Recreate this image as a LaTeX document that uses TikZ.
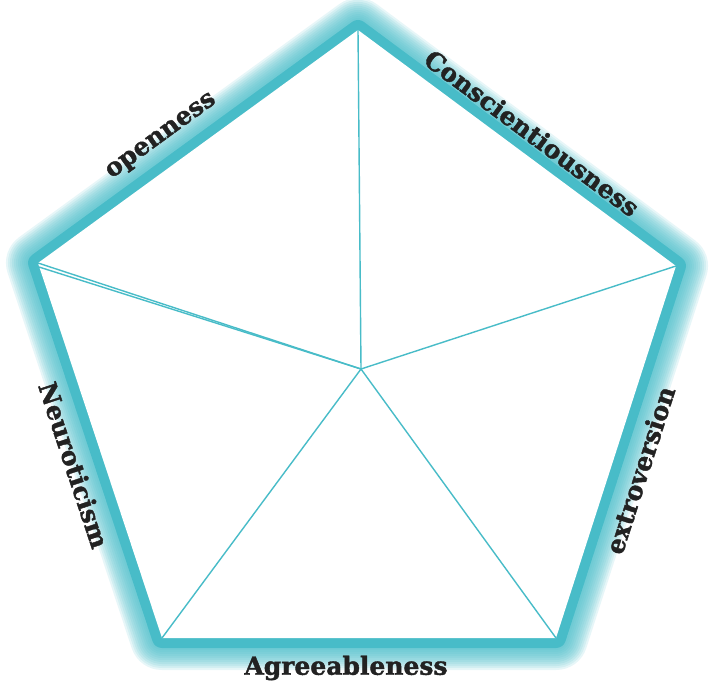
\documentclass[tikz,border=0pt]{standalone}
\usepackage{fontspec}
\usepackage{xcolor}
\usepackage{tikz}
\usetikzlibrary{calc}
\newfontfamily\traitfont{DejaVu Serif}[BoldFeatures={FakeBold=1.6}]
\definecolor{xteal}{RGB}{72,188,200}
\definecolor{xdark}{RGB}{34,34,34}

\begin{document}
\begin{tikzpicture}[
  x=1pt, y=-1pt,
  rim/.style={draw=xteal, line join=round, line width=#1},
  spoke/.style={draw=xteal, line width=1.4pt},
  trait/.style={font=\traitfont\bfseries\fontsize{25}{28}\selectfont,
                text=xdark, inner sep=1pt}
]
  \useasboundingbox (0,0) rectangle (712,698);

  % corners of the pentagon and its middle
  \coordinate (T)  at (358,30);
  \coordinate (R)  at (676,266);
  \coordinate (BR) at (556,638);
  \coordinate (BL) at (162,638);
  \coordinate (L)  at (38,263);
  \coordinate (L2) at (39,267);
  \coordinate (C)  at (361,369);

  % soft glow round the rim, then the solid band
  \foreach \w in {64,60,...,24}
    \draw[rim=\w pt, opacity=0.13] (T) -- (R) -- (BR) -- (BL) -- (L) -- cycle;
  \draw[rim=20pt] (T) -- (R) -- (BR) -- (BL) -- (L) -- cycle;
  \fill[white] (T) -- (R) -- (BR) -- (BL) -- (L) -- cycle;

  \foreach \v in {T, R, BR, BL, L, L2}
    \draw[spoke] (C) -- (\v);

  \node[trait, rotate=36.1]  (open) at (162,137) {openness};
  \node[trait, rotate=-36.6] (cons) at (532,133) {Conscientiousness};
  \node[trait, rotate=72.1]  (extr) at (640,470) {extroversion};
  \node[trait]               (agre) at (346,668) {Agreeableness};
  \node[trait, rotate=-71.7] (neur) at (74,465)  {Neuroticism};
\end{tikzpicture}
\end{document}
